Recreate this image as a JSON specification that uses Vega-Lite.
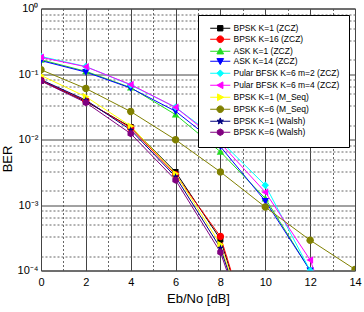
{
  "$schema": "https://vega.github.io/schema/vega-lite/v6.json",
  "width": 314,
  "height": 262,
  "autosize": "none",
  "padding": {"left": 41, "top": 8.5, "right": 9, "bottom": 41.5},
  "config": {
    "font": "Liberation Sans",
    "view": {"stroke": "#333333", "strokeWidth": 1},
    "axis": {"domain": false, "ticks": false, "labelColor": "#000000", "titleColor": "#000000", "titleFontWeight": "normal"}
  },
  "data": {
    "values": [
      {"s": "BPSK K=1 (ZCZ)", "x": 0, "y": 0.079},
      {"s": "BPSK K=1 (ZCZ)", "x": 2, "y": 0.038},
      {"s": "BPSK K=1 (ZCZ)", "x": 4, "y": 0.0155},
      {"s": "BPSK K=1 (ZCZ)", "x": 6, "y": 0.0032},
      {"s": "BPSK K=1 (ZCZ)", "x": 8, "y": 0.0003},
      {"s": "BPSK K=1 (ZCZ)", "x": 10, "y": 0.000002},
      {"s": "BPSK K=16 (ZCZ)", "x": 0, "y": 0.08},
      {"s": "BPSK K=16 (ZCZ)", "x": 2, "y": 0.039},
      {"s": "BPSK K=16 (ZCZ)", "x": 4, "y": 0.015},
      {"s": "BPSK K=16 (ZCZ)", "x": 6, "y": 0.0029},
      {"s": "BPSK K=16 (ZCZ)", "x": 8, "y": 0.00033},
      {"s": "BPSK K=16 (ZCZ)", "x": 10, "y": 0.000002},
      {"s": "ASK K=1 (ZCZ)", "x": 0, "y": 0.165},
      {"s": "ASK K=1 (ZCZ)", "x": 2, "y": 0.11},
      {"s": "ASK K=1 (ZCZ)", "x": 4, "y": 0.062},
      {"s": "ASK K=1 (ZCZ)", "x": 6, "y": 0.024},
      {"s": "ASK K=1 (ZCZ)", "x": 8, "y": 0.0065},
      {"s": "ASK K=1 (ZCZ)", "x": 10, "y": 0.00126},
      {"s": "ASK K=1 (ZCZ)", "x": 12, "y": 0.0001},
      {"s": "ASK K=1 (ZCZ)", "x": 14, "y": 0.000001},
      {"s": "ASK K=14 (ZCZ)", "x": 0, "y": 0.16},
      {"s": "ASK K=14 (ZCZ)", "x": 2, "y": 0.107},
      {"s": "ASK K=14 (ZCZ)", "x": 4, "y": 0.061},
      {"s": "ASK K=14 (ZCZ)", "x": 6, "y": 0.027},
      {"s": "ASK K=14 (ZCZ)", "x": 8, "y": 0.0078},
      {"s": "ASK K=14 (ZCZ)", "x": 10, "y": 0.00115},
      {"s": "ASK K=14 (ZCZ)", "x": 12, "y": 0.0001},
      {"s": "ASK K=14 (ZCZ)", "x": 14, "y": 0.000001},
      {"s": "Pular BFSK K=6 m=2 (ZCZ)", "x": 0, "y": 0.185},
      {"s": "Pular BFSK K=6 m=2 (ZCZ)", "x": 2, "y": 0.13},
      {"s": "Pular BFSK K=6 m=2 (ZCZ)", "x": 4, "y": 0.068},
      {"s": "Pular BFSK K=6 m=2 (ZCZ)", "x": 6, "y": 0.031},
      {"s": "Pular BFSK K=6 m=2 (ZCZ)", "x": 8, "y": 0.0095},
      {"s": "Pular BFSK K=6 m=2 (ZCZ)", "x": 10, "y": 0.002},
      {"s": "Pular BFSK K=6 m=2 (ZCZ)", "x": 12, "y": 0.0001},
      {"s": "Pular BFSK K=6 m=2 (ZCZ)", "x": 14, "y": 0.000001},
      {"s": "Pular BFSK K=6 m=4 (ZCZ)", "x": 0, "y": 0.18},
      {"s": "Pular BFSK K=6 m=4 (ZCZ)", "x": 2, "y": 0.129},
      {"s": "Pular BFSK K=6 m=4 (ZCZ)", "x": 4, "y": 0.069},
      {"s": "Pular BFSK K=6 m=4 (ZCZ)", "x": 6, "y": 0.031},
      {"s": "Pular BFSK K=6 m=4 (ZCZ)", "x": 8, "y": 0.0088},
      {"s": "Pular BFSK K=6 m=4 (ZCZ)", "x": 10, "y": 0.00157},
      {"s": "Pular BFSK K=6 m=4 (ZCZ)", "x": 12, "y": 0.000145},
      {"s": "Pular BFSK K=6 m=4 (ZCZ)", "x": 14, "y": 0.000002},
      {"s": "BPSK K=1 (M_Seq)", "x": 0, "y": 0.095},
      {"s": "BPSK K=1 (M_Seq)", "x": 2, "y": 0.045},
      {"s": "BPSK K=1 (M_Seq)", "x": 4, "y": 0.016},
      {"s": "BPSK K=1 (M_Seq)", "x": 6, "y": 0.003},
      {"s": "BPSK K=1 (M_Seq)", "x": 8, "y": 0.00025},
      {"s": "BPSK K=1 (M_Seq)", "x": 10, "y": 0.000002},
      {"s": "BPSK K=6 (M_Seq)", "x": 0, "y": 0.116},
      {"s": "BPSK K=6 (M_Seq)", "x": 2, "y": 0.06},
      {"s": "BPSK K=6 (M_Seq)", "x": 4, "y": 0.0267},
      {"s": "BPSK K=6 (M_Seq)", "x": 6, "y": 0.0099},
      {"s": "BPSK K=6 (M_Seq)", "x": 8, "y": 0.0032},
      {"s": "BPSK K=6 (M_Seq)", "x": 10, "y": 0.00093},
      {"s": "BPSK K=6 (M_Seq)", "x": 12, "y": 0.00029},
      {"s": "BPSK K=6 (M_Seq)", "x": 14, "y": 0.000104},
      {"s": "BPSK K=1 (Walsh)", "x": 0, "y": 0.082},
      {"s": "BPSK K=1 (Walsh)", "x": 2, "y": 0.04},
      {"s": "BPSK K=1 (Walsh)", "x": 4, "y": 0.014},
      {"s": "BPSK K=1 (Walsh)", "x": 6, "y": 0.0027},
      {"s": "BPSK K=1 (Walsh)", "x": 8, "y": 0.00022},
      {"s": "BPSK K=1 (Walsh)", "x": 10, "y": 0.000002},
      {"s": "BPSK K=6 (Walsh)", "x": 0, "y": 0.078},
      {"s": "BPSK K=6 (Walsh)", "x": 2, "y": 0.0366},
      {"s": "BPSK K=6 (Walsh)", "x": 4, "y": 0.0123},
      {"s": "BPSK K=6 (Walsh)", "x": 6, "y": 0.0024},
      {"s": "BPSK K=6 (Walsh)", "x": 8, "y": 0.00019},
      {"s": "BPSK K=6 (Walsh)", "x": 10, "y": 0.000002}
    ]
  },
  "resolve": {
    "axis": {"x": "independent", "y": "independent"},
    "scale": {"shape": "independent", "color": "independent", "fill": "independent"}
  },
  "layer": [
    {
      "description": "minor grid: dashed lines at odd dB values and inside each decade",
      "mark": {"type": "point", "opacity": 0},
      "encoding": {
        "x": {"field": "x", "type": "quantitative",
              "scale": {"domain": [0, 14], "nice": false, "zero": false},
              "axis": {"orient": "bottom", "labels": false, "title": null, "grid": true,
                       "values": [1, 3, 5, 7, 9, 11, 13],
                       "gridColor": "#666666", "gridDash": [2, 2], "gridWidth": 1, "gridOpacity": 1}},
        "y": {"field": "y", "type": "quantitative",
              "scale": {"type": "log", "domain": [0.0001, 1], "nice": false},
              "axis": {"orient": "left", "labels": false, "title": null, "grid": true,
                       "values": [0.000165, 0.00033, 0.0005, 0.000655, 0.00082,
                                  0.00165, 0.0033, 0.005, 0.00655, 0.0082,
                                  0.0165, 0.033, 0.05, 0.0655, 0.082,
                                  0.165, 0.33, 0.5, 0.655, 0.82],
                       "gridColor": "#666666", "gridDash": [2, 2], "gridWidth": 1, "gridOpacity": 1}}
      }
    },
    {
      "mark": {"type": "line", "strokeWidth": 1, "clip": true},
      "encoding": {
        "x": {"field": "x", "type": "quantitative",
              "axis": {"orient": "bottom", "title": "Eb/No [dB]", "values": [0, 2, 4, 6, 8, 10, 12, 14],
                       "grid": true, "gridColor": "#444444", "gridWidth": 1, "gridOpacity": 1,
                       "labelFontSize": 11, "labelPadding": 6, "labelFlush": false,
                       "titleFontSize": 13, "titlePadding": 5}},
        "y": {"field": "y", "type": "quantitative",
              "axis": {"orient": "left", "title": "BER", "values": [0.0001, 0.001, 0.01, 0.1, 1],
                       "labelExpr": "'10' + ['⁰', '⁻¹', '⁻²', '⁻³', '⁻⁴'][-round(log(datum.value) / LN10)]",
                       "grid": true, "gridColor": "#444444", "gridWidth": 1, "gridOpacity": 1,
                       "labelFontSize": 11, "labelPadding": 3, "labelFlush": false,
                       "titleFontSize": 13, "titlePadding": 3, "titleY": 150}},
        "color": {"field": "s", "type": "nominal", "legend": null,
                  "scale": {"domain": ["BPSK K=1 (ZCZ)", "BPSK K=16 (ZCZ)", "ASK K=1 (ZCZ)", "ASK K=14 (ZCZ)",
                                       "Pular BFSK K=6 m=2 (ZCZ)", "Pular BFSK K=6 m=4 (ZCZ)", "BPSK K=1 (M_Seq)",
                                       "BPSK K=6 (M_Seq)", "BPSK K=1 (Walsh)", "BPSK K=6 (Walsh)"],
                            "range": ["#000000", "#ff0000", "#22dd22", "#0000ff", "#00ffff", "#ff00ff",
                                      "#ffff00", "#808000", "#000080", "#800080"]}},
        "detail": {"field": "s"}
      }
    },
    {
      "mark": {"type": "point", "filled": true, "opacity": 1, "size": 55, "clip": true},
      "encoding": {
        "x": {"field": "x", "type": "quantitative", "axis": null},
        "y": {"field": "y", "type": "quantitative", "axis": null},
        "color": {"field": "s", "type": "nominal", "legend": null,
                  "scale": {"domain": ["BPSK K=1 (ZCZ)", "BPSK K=16 (ZCZ)", "ASK K=1 (ZCZ)", "ASK K=14 (ZCZ)",
                                       "Pular BFSK K=6 m=2 (ZCZ)", "Pular BFSK K=6 m=4 (ZCZ)", "BPSK K=1 (M_Seq)",
                                       "BPSK K=6 (M_Seq)", "BPSK K=1 (Walsh)", "BPSK K=6 (Walsh)"],
                            "range": ["#000000", "#ff0000", "#22dd22", "#0000ff", "#00ffff", "#ff00ff",
                                      "#ffff00", "#808000", "#000080", "#800080"]}},
        "shape": {"field": "s", "type": "nominal", "legend": null,
                  "scale": {"domain": ["BPSK K=1 (ZCZ)", "BPSK K=16 (ZCZ)", "ASK K=1 (ZCZ)", "ASK K=14 (ZCZ)",
                                       "Pular BFSK K=6 m=2 (ZCZ)", "Pular BFSK K=6 m=4 (ZCZ)", "BPSK K=1 (M_Seq)",
                                       "BPSK K=6 (M_Seq)", "BPSK K=1 (Walsh)", "BPSK K=6 (Walsh)"],
                            "range": ["M-0.8,-0.8L0.8,-0.8L0.8,0.8L-0.8,0.8Z",
                                      "M1,0A1,1,0,1,1,-1,0A1,1,0,1,1,1,0Z",
                                      "M0,-1L1,0.8L-1,0.8Z",
                                      "M0,1L1,-0.8L-1,-0.8Z",
                                      "M0,-1L1,0L0,1L-1,0Z",
                                      "M-1,0L0.8,-1L0.8,1Z",
                                      "M1,0L-0.8,-1L-0.8,1Z",
                                      "M1,0A1,1,0,1,1,-1,0A1,1,0,1,1,1,0Z",
                                      "M0,-1L0.235,-0.324L0.951,-0.309L0.38,0.124L0.588,0.809L0,0.4L-0.588,0.809L-0.38,0.124L-0.951,-0.309L-0.235,-0.324Z",
                                      "M0,-1L0.866,-0.5L0.866,0.5L0,1L-0.866,0.5L-0.866,-0.5Z"]}}
      }
    },
    {
      "description": "legend keys: each marker drawn on a short line segment",
      "transform": [{"filter": "datum.x < 0"}],
      "mark": {"type": "point", "filled": false, "opacity": 1, "size": 45, "strokeWidth": 1},
      "encoding": {
        "color": {"field": "s", "type": "nominal", "title": null,
                  "scale": {"domain": ["BPSK K=1 (ZCZ)", "BPSK K=16 (ZCZ)", "ASK K=1 (ZCZ)", "ASK K=14 (ZCZ)",
                                       "Pular BFSK K=6 m=2 (ZCZ)", "Pular BFSK K=6 m=4 (ZCZ)", "BPSK K=1 (M_Seq)",
                                       "BPSK K=6 (M_Seq)", "BPSK K=1 (Walsh)", "BPSK K=6 (Walsh)"],
                            "range": ["#000000", "#ff0000", "#22dd22", "#0000ff", "#00ffff", "#ff00ff",
                                      "#ffff00", "#808000", "#000080", "#800080"]},
                  "legend": {
                    "orient": "none", "legendX": 157, "legendY": 6.5,
                    "fillColor": "#ffffff", "strokeColor": "#000000", "padding": 9,
                    "labelFontSize": 8.5, "labelColor": "#000000", "labelLimit": 200,
                    "rowPadding": 0, "symbolSize": 45, "symbolOffset": 9, "labelOffset": 9,
                    "symbolStrokeWidth": 1
                  }},
        "fill": {"field": "s", "type": "nominal", "title": null,
                 "scale": {"domain": ["BPSK K=1 (ZCZ)", "BPSK K=16 (ZCZ)", "ASK K=1 (ZCZ)", "ASK K=14 (ZCZ)",
                                      "Pular BFSK K=6 m=2 (ZCZ)", "Pular BFSK K=6 m=4 (ZCZ)", "BPSK K=1 (M_Seq)",
                                      "BPSK K=6 (M_Seq)", "BPSK K=1 (Walsh)", "BPSK K=6 (Walsh)"],
                           "range": ["#000000", "#ff0000", "#22dd22", "#0000ff", "#00ffff", "#ff00ff",
                                     "#ffff00", "#808000", "#000080", "#800080"]}},
        "shape": {"field": "s", "type": "nominal", "title": null,
                  "scale": {"domain": ["BPSK K=1 (ZCZ)", "BPSK K=16 (ZCZ)", "ASK K=1 (ZCZ)", "ASK K=14 (ZCZ)",
                                       "Pular BFSK K=6 m=2 (ZCZ)", "Pular BFSK K=6 m=4 (ZCZ)", "BPSK K=1 (M_Seq)",
                                       "BPSK K=6 (M_Seq)", "BPSK K=1 (Walsh)", "BPSK K=6 (Walsh)"],
                            "range": ["M-0.8,-0.8L0.8,-0.8L0.8,0.8L-0.8,0.8ZM-3,0L3,0",
                                      "M1,0A1,1,0,1,1,-1,0A1,1,0,1,1,1,0ZM-3,0L3,0",
                                      "M0,-1L1,0.8L-1,0.8ZM-3,0L3,0",
                                      "M0,1L1,-0.8L-1,-0.8ZM-3,0L3,0",
                                      "M0,-1L1,0L0,1L-1,0ZM-3,0L3,0",
                                      "M-1,0L0.8,-1L0.8,1ZM-3,0L3,0",
                                      "M1,0L-0.8,-1L-0.8,1ZM-3,0L3,0",
                                      "M1,0A1,1,0,1,1,-1,0A1,1,0,1,1,1,0ZM-3,0L3,0",
                                      "M0,-1L0.235,-0.324L0.951,-0.309L0.38,0.124L0.588,0.809L0,0.4L-0.588,0.809L-0.38,0.124L-0.951,-0.309L-0.235,-0.324ZM-3,0L3,0",
                                      "M0,-1L0.866,-0.5L0.866,0.5L0,1L-0.866,0.5L-0.866,-0.5ZM-3,0L3,0"]}}
      }
    }
  ]
}
